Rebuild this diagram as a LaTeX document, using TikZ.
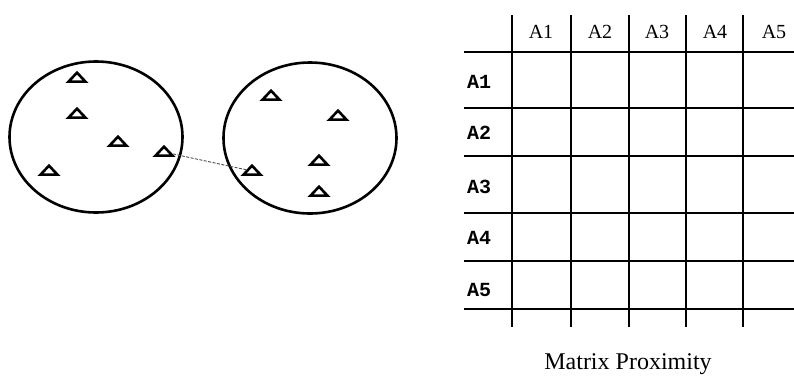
\documentclass[tikz,border=0pt]{standalone}
\usepackage{fontspec}
\setmainfont{Liberation Serif}
\newfontfamily\rowfont{Liberation Mono}
\usetikzlibrary{shapes.geometric, positioning}

\begin{document}
\begin{tikzpicture}[
    x=1pt, y=-1pt,
    cluster/.style={draw, ellipse, line width=2.6pt, minimum width=173pt, minimum height=151pt, inner sep=0pt},
    tri/.style={draw, isosceles triangle, isosceles triangle stretches, shape border rotate=90, line width=2.6pt, minimum width=17pt, minimum height=9pt, inner sep=0pt},
    link/.style={draw, line width=0.9pt, black!70, dash pattern=on 3pt off 1.5pt},
    grid/.style={line width=1.3pt},
    colhead/.style={font=\fontsize{20}{24}\selectfont},
    rowhead/.style={font=\rowfont\bfseries\fontsize{20}{24}\selectfont},
    caption/.style={font=\fontsize{24}{28}\selectfont}
]
\useasboundingbox (0,0) rectangle (794,376);

% two clusters
\node[cluster] (c1) at (96,137) {};
\node[cluster] (c2) at (310,138) {};

\node[tri] (a1) at (77,78) {};
\node[tri] (a2) at (77,114) {};
\node[tri] (a3) at (118,142) {};
\node[tri] (a4) at (164,152) {};
\node[tri] (a5) at (49,171) {};

\node[tri] (b1) at (271,96) {};
\node[tri] (b2) at (338,116) {};
\node[tri] (b3) at (319,161) {};
\node[tri] (b4) at (252,171) {};
\node[tri] (b5) at (319,192) {};

\draw[link] (a4) -- (b4);

% proximity matrix
\draw[grid] (512,15) -- (512,327);
\draw[grid] (571,15) -- (571,327);
\draw[grid] (629,15) -- (629,327);
\draw[grid] (686,15) -- (686,327);
\draw[grid] (743,15) -- (743,327);

\draw[grid] (464,52) -- (794,52);
\draw[grid] (464,108) -- (794,108);
\draw[grid] (464,156) -- (794,156);
\draw[grid] (464,213) -- (794,213);
\draw[grid] (464,261) -- (794,261);
\draw[grid] (464,309) -- (794,309);

\node[colhead] (h1) at (541,32) {A1};
\node[colhead] (h2) at (600,32) {A2};
\node[colhead] (h3) at (657,32) {A3};
\node[colhead] (h4) at (715,32) {A4};
\node[colhead] (h5) at (774,32) {A5};

\node[rowhead] (r1) at (479,82) {A1};
\node[rowhead] (r2) at (479,133) {A2};
\node[rowhead] (r3) at (479,187) {A3};
\node[rowhead] (r4) at (479,238) {A4};
\node[rowhead] (r5) at (479,290) {A5};

\node[caption] (title) at (628,364) {Matrix Proximity};

\end{tikzpicture}
\end{document}
